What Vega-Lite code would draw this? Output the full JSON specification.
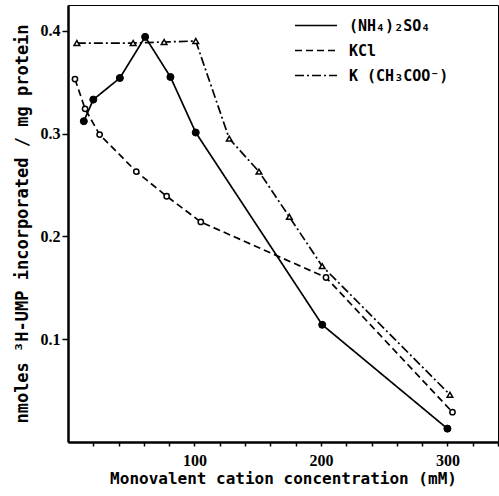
{
  "$schema": "https://vega.github.io/schema/vega-lite/v6.json",
  "width": 430,
  "height": 437,
  "autosize": "none",
  "padding": {"left": 68, "top": 5, "right": 1, "bottom": 54},
  "background": "white",
  "config": {
    "view": {"stroke": "black", "strokeWidth": 1},
    "axis": {
      "grid": false,
      "domainColor": "black",
      "domainWidth": 2.5,
      "tickColor": "black",
      "tickWidth": 1.5,
      "labelColor": "black",
      "labelFont": "Liberation Sans Narrow",
      "labelFontWeight": "bold",
      "labelFontSize": 16,
      "titleColor": "black",
      "titleFont": "DejaVu Sans Mono",
      "titleFontWeight": "bold"
    },
    "legend": {
      "labelFont": "DejaVu Sans Mono",
      "labelFontWeight": "bold",
      "labelFontSize": 15,
      "labelColor": "black"
    }
  },
  "data": {
    "values": [
      {"series": "(NH₄)₂SO₄", "conc": 12.5, "value": 0.312},
      {"series": "(NH₄)₂SO₄", "conc": 20, "value": 0.333},
      {"series": "(NH₄)₂SO₄", "conc": 41, "value": 0.354},
      {"series": "(NH₄)₂SO₄", "conc": 61, "value": 0.394},
      {"series": "(NH₄)₂SO₄", "conc": 81, "value": 0.355},
      {"series": "(NH₄)₂SO₄", "conc": 101, "value": 0.301},
      {"series": "(NH₄)₂SO₄", "conc": 201, "value": 0.114},
      {"series": "(NH₄)₂SO₄", "conc": 300, "value": 0.013},
      {"series": "KCl", "conc": 5.5, "value": 0.353},
      {"series": "KCl", "conc": 13.5, "value": 0.324},
      {"series": "KCl", "conc": 25, "value": 0.299},
      {"series": "KCl", "conc": 54, "value": 0.263},
      {"series": "KCl", "conc": 78, "value": 0.239},
      {"series": "KCl", "conc": 105, "value": 0.214},
      {"series": "KCl", "conc": 204, "value": 0.160},
      {"series": "KCl", "conc": 304, "value": 0.029},
      {"series": "K (CH₃COO⁻)", "conc": 7, "value": 0.388},
      {"series": "K (CH₃COO⁻)", "conc": 51.5, "value": 0.388},
      {"series": "K (CH₃COO⁻)", "conc": 76, "value": 0.389},
      {"series": "K (CH₃COO⁻)", "conc": 101, "value": 0.390},
      {"series": "K (CH₃COO⁻)", "conc": 127.5, "value": 0.295},
      {"series": "K (CH₃COO⁻)", "conc": 151, "value": 0.263},
      {"series": "K (CH₃COO⁻)", "conc": 175, "value": 0.219},
      {"series": "K (CH₃COO⁻)", "conc": 201, "value": 0.171},
      {"series": "K (CH₃COO⁻)", "conc": 302, "value": 0.046}
    ]
  },
  "encoding": {
    "x": {
      "field": "conc",
      "type": "quantitative",
      "scale": {"domain": [0, 340], "nice": false, "zero": false},
      "axis": {
        "values": [20, 40, 60, 80, 100, 120, 140, 160, 180, 200, 220, 240, 260, 280, 300, 320, 340],
        "labelExpr": "datum.value % 100 == 0 ? datum.label : ''",
        "tickSize": 4,
        "labelPadding": 6,
        "title": "Monovalent cation concentration (mM)",
        "titleFontSize": 16,
        "titlePadding": 2
      }
    },
    "y": {
      "field": "value",
      "type": "quantitative",
      "scale": {"domain": [0, 0.425], "nice": false},
      "axis": {
        "values": [0.1, 0.2, 0.3, 0.4],
        "format": ".1f",
        "tickSize": 6,
        "labelPadding": 2,
        "title": "nmoles ³H-UMP incorporated / mg protein",
        "titleFontSize": 17,
        "titlePadding": 9
      }
    }
  },
  "layer": [
    {
      "mark": {"type": "line", "color": "black", "strokeWidth": 1.7},
      "encoding": {
        "strokeDash": {
          "field": "series",
          "type": "nominal",
          "scale": {
            "domain": ["(NH₄)₂SO₄", "KCl", "K (CH₃COO⁻)"],
            "range": [[1, 0], [7, 4], [9, 3, 2, 3]]
          },
          "legend": {
            "title": null,
            "orient": "none",
            "legendX": 226,
            "legendY": 9,
            "padding": 0,
            "symbolType": "M-1,0H3",
            "symbolSize": 441,
            "symbolStrokeWidth": 1.7,
            "symbolStrokeColor": "black",
            "symbolFillColor": "transparent",
            "labelOffset": 32,
            "rowPadding": 5
          }
        }
      }
    },
    {
      "transform": [{"filter": "datum.series == '(NH₄)₂SO₄'"}],
      "mark": {"type": "point", "shape": "circle", "filled": true, "fill": "black", "stroke": "black", "strokeWidth": 1, "size": 50, "opacity": 1}
    },
    {
      "transform": [{"filter": "datum.series == 'KCl'"}],
      "mark": {"type": "point", "shape": "circle", "filled": true, "fill": "white", "stroke": "black", "strokeWidth": 1.5, "size": 28, "opacity": 1}
    },
    {
      "transform": [{"filter": "datum.series == 'K (CH₃COO⁻)'"}],
      "mark": {"type": "point", "shape": "triangle-up", "filled": true, "fill": "white", "stroke": "black", "strokeWidth": 1.5, "size": 32, "opacity": 1}
    }
  ]
}
